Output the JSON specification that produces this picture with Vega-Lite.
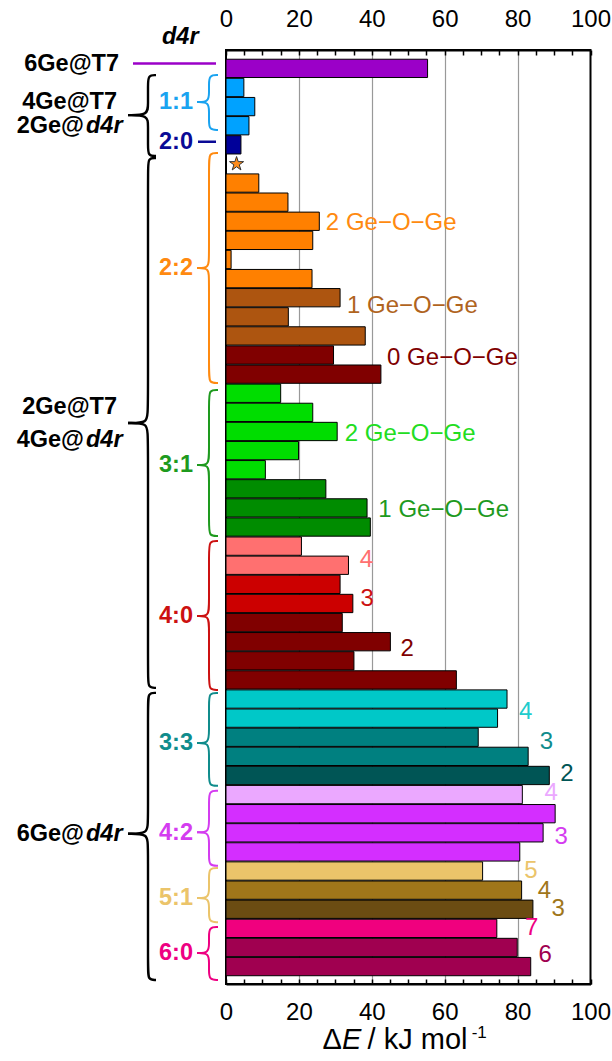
{
  "$schema": "https://vega.github.io/schema/vega-lite/v6.json",
  "padding": {"left": 0, "top": 6, "right": 0, "bottom": 0},
  "spacing": 0,
  "bounds": "flush",
  "config": {"font": "Liberation Sans", "view": {"stroke": null}},
  "datasets": {
    "bars": [
      {"row": 1, "dE": 55.3, "c": "T7"},
      {"row": 2, "dE": 4.9, "c": "b11"},
      {"row": 3, "dE": 7.9, "c": "b11"},
      {"row": 4, "dE": 6.3, "c": "b11"},
      {"row": 5, "dE": 4.1, "c": "b20"},
      {"row": 7, "dE": 9.0, "c": "b22a"},
      {"row": 8, "dE": 17.0, "c": "b22a"},
      {"row": 9, "dE": 25.6, "c": "b22a"},
      {"row": 10, "dE": 23.8, "c": "b22a"},
      {"row": 11, "dE": 1.4, "c": "b22a"},
      {"row": 12, "dE": 23.6, "c": "b22a"},
      {"row": 13, "dE": 31.3, "c": "b22b"},
      {"row": 14, "dE": 17.1, "c": "b22b"},
      {"row": 15, "dE": 38.2, "c": "b22b"},
      {"row": 16, "dE": 29.5, "c": "b22c"},
      {"row": 17, "dE": 42.5, "c": "b22c"},
      {"row": 18, "dE": 15.0, "c": "b31a"},
      {"row": 19, "dE": 23.8, "c": "b31a"},
      {"row": 20, "dE": 30.5, "c": "b31a"},
      {"row": 21, "dE": 19.9, "c": "b31a"},
      {"row": 22, "dE": 10.8, "c": "b31a"},
      {"row": 23, "dE": 27.4, "c": "b31b"},
      {"row": 24, "dE": 38.7, "c": "b31b"},
      {"row": 25, "dE": 39.6, "c": "b31b"},
      {"row": 26, "dE": 20.7, "c": "b40a"},
      {"row": 27, "dE": 33.6, "c": "b40a"},
      {"row": 28, "dE": 31.3, "c": "b40b"},
      {"row": 29, "dE": 34.8, "c": "b40b"},
      {"row": 30, "dE": 31.9, "c": "b40c"},
      {"row": 31, "dE": 45.1, "c": "b40c"},
      {"row": 32, "dE": 35.1, "c": "b40c"},
      {"row": 33, "dE": 63.2, "c": "b40c"},
      {"row": 34, "dE": 77.1, "c": "b33a"},
      {"row": 35, "dE": 74.5, "c": "b33a"},
      {"row": 36, "dE": 69.2, "c": "b33b"},
      {"row": 37, "dE": 82.9, "c": "b33b"},
      {"row": 38, "dE": 88.7, "c": "b33c"},
      {"row": 39, "dE": 81.3, "c": "b42a"},
      {"row": 40, "dE": 90.3, "c": "b42b"},
      {"row": 41, "dE": 87.0, "c": "b42b"},
      {"row": 42, "dE": 80.6, "c": "b42b"},
      {"row": 43, "dE": 70.4, "c": "b51a"},
      {"row": 44, "dE": 81.1, "c": "b51b"},
      {"row": 45, "dE": 84.2, "c": "b51c"},
      {"row": 46, "dE": 74.3, "c": "b60a"},
      {"row": 47, "dE": 79.9, "c": "b60b"},
      {"row": 48, "dE": 83.6, "c": "b60b"}
    ],
    "star": [{"row": 6, "dE": 2.9}],
    "geo": [
      {"t": "2 Ge−O−Ge", "x": 27.4, "row": 9.07, "c": "L22"},
      {"t": "1 Ge−O−Ge", "x": 33.2, "row": 13.45, "c": "t22b"},
      {"t": "0 Ge−O−Ge", "x": 44.2, "row": 16.14, "c": "b22c"},
      {"t": "2 Ge−O−Ge", "x": 32.6, "row": 20.12, "c": "t31a"},
      {"t": "1 Ge−O−Ge", "x": 41.8, "row": 24.1, "c": "L31"}
    ],
    "nums": [
      {"t": "4", "x": 36.7, "row": 26.75, "c": "b40a"},
      {"t": "3", "x": 36.9, "row": 28.75, "c": "L40"},
      {"t": "2", "x": 47.9, "row": 31.4, "c": "b40c"},
      {"t": "4", "x": 80.4, "row": 34.7, "c": "t33a"},
      {"t": "3", "x": 86.1, "row": 36.26, "c": "L33"},
      {"t": "2", "x": 91.7, "row": 37.9, "c": "b33c"},
      {"t": "4", "x": 87.4, "row": 38.9, "c": "b42a"},
      {"t": "3", "x": 90.1, "row": 41.2, "c": "L42"},
      {"t": "5", "x": 81.8, "row": 42.99, "c": "L51"},
      {"t": "4", "x": 85.5, "row": 44.02, "c": "b51b"},
      {"t": "3", "x": 89.3, "row": 44.97, "c": "b51b"},
      {"t": "7", "x": 82.0, "row": 46.0, "c": "L60"},
      {"t": "6", "x": 85.7, "row": 47.39, "c": "b60b"}
    ],
    "titlePlain": [
      {"t": "Δ", "x": 26.47, "row": 52.3},
      {"t": "/ kJ mol", "x": 38.85, "row": 52.3}
    ],
    "titleItalic": [{"t": "E", "x": 31.8, "row": 52.3}],
    "titleSup": [{"t": "-1", "x": 67.4, "row": 51.72}],
    "leftlabels": [
      {"t": "6Ge@T7", "x": 119, "row": 1, "c": "k"},
      {"t": "4Ge@T7", "x": 117, "row": 2.99, "c": "k"},
      {"t": "2Ge@", "x": 84, "row": 4.23, "c": "k"},
      {"t": "2Ge@T7", "x": 117, "row": 18.78, "c": "k"},
      {"t": "4Ge@", "x": 84, "row": 20.49, "c": "k"},
      {"t": "6Ge@", "x": 84, "row": 40.87, "c": "k"},
      {"t": "1:1", "x": 193, "row": 2.99, "c": "L11"},
      {"t": "2:0", "x": 193, "row": 5.05, "c": "L20"},
      {"t": "2:2", "x": 193, "row": 11.58, "c": "L22"},
      {"t": "3:1", "x": 193, "row": 21.78, "c": "L31"},
      {"t": "4:0", "x": 193, "row": 29.6, "c": "L40"},
      {"t": "3:3", "x": 193, "row": 36.17, "c": "L33"},
      {"t": "4:2", "x": 193, "row": 40.85, "c": "L42"},
      {"t": "5:1", "x": 193, "row": 44.2, "c": "L51"},
      {"t": "6:0", "x": 193, "row": 47.04, "c": "L60"}
    ],
    "italics": [
      {"t": "d4r", "x": 86, "row": 4.23},
      {"t": "d4r", "x": 86, "row": 20.49},
      {"t": "d4r", "x": 86, "row": 40.87},
      {"t": "d4r", "x": 162, "row": -0.35}
    ],
    "lrules": [
      {"x": 133, "x2": 216, "row": 1, "c": "T7"},
      {"x": 198, "x2": 216, "row": 5.05, "c": "L20"}
    ],
    "kbraces": [
      {"s": "K1u", "i": 0, "x": 156, "row": 1.6}, {"s": "K1u", "i": 1, "x": 148, "row": 1.6}, {"s": "K1u", "i": 2, "x": 148, "row": 2.15}, {"s": "K1u", "i": 3, "x": 148, "row": 3.12}, {"s": "K1u", "i": 4, "x": 148, "row": 3.67}, {"s": "K1u", "i": 5, "x": 128, "row": 3.67},
      {"s": "K1l", "i": 0, "x": 128, "row": 3.67}, {"s": "K1l", "i": 1, "x": 148, "row": 3.67}, {"s": "K1l", "i": 2, "x": 148, "row": 4.22}, {"s": "K1l", "i": 3, "x": 148, "row": 5.24}, {"s": "K1l", "i": 4, "x": 148, "row": 5.79}, {"s": "K1l", "i": 5, "x": 156, "row": 5.79},
      {"s": "K2u", "i": 0, "x": 156, "row": 5.89}, {"s": "K2u", "i": 1, "x": 148, "row": 5.89}, {"s": "K2u", "i": 2, "x": 148, "row": 6.49}, {"s": "K2u", "i": 3, "x": 148, "row": 19.01}, {"s": "K2u", "i": 4, "x": 148, "row": 19.61}, {"s": "K2u", "i": 5, "x": 128, "row": 19.61},
      {"s": "K2l", "i": 0, "x": 128, "row": 19.61}, {"s": "K2l", "i": 1, "x": 148, "row": 19.61}, {"s": "K2l", "i": 2, "x": 148, "row": 20.21}, {"s": "K2l", "i": 3, "x": 148, "row": 32.72}, {"s": "K2l", "i": 4, "x": 148, "row": 33.32}, {"s": "K2l", "i": 5, "x": 156, "row": 33.32},
      {"s": "K3u", "i": 0, "x": 156, "row": 33.58}, {"s": "K3u", "i": 1, "x": 148, "row": 33.58}, {"s": "K3u", "i": 2, "x": 148, "row": 34.18}, {"s": "K3u", "i": 3, "x": 148, "row": 40.27}, {"s": "K3u", "i": 4, "x": 148, "row": 40.87}, {"s": "K3u", "i": 5, "x": 128, "row": 40.87},
      {"s": "K3l", "i": 0, "x": 128, "row": 40.87}, {"s": "K3l", "i": 1, "x": 148, "row": 40.87}, {"s": "K3l", "i": 2, "x": 148, "row": 41.47}, {"s": "K3l", "i": 3, "x": 148, "row": 47.84}, {"s": "K3l", "i": 4, "x": 148, "row": 48.44}, {"s": "K3l", "i": 5, "x": 156, "row": 48.44}
    ],
    "cbraces": [
      {"s": "A11u", "c": "L11", "i": 0, "x": 218, "row": 1.6}, {"s": "A11u", "c": "L11", "i": 1, "x": 209, "row": 1.6}, {"s": "A11u", "c": "L11", "i": 2, "x": 209, "row": 2.15}, {"s": "A11u", "c": "L11", "i": 3, "x": 209, "row": 2.44}, {"s": "A11u", "c": "L11", "i": 4, "x": 209, "row": 2.99}, {"s": "A11u", "c": "L11", "i": 5, "x": 197, "row": 2.99},
      {"s": "A11l", "c": "L11", "i": 0, "x": 197, "row": 2.99}, {"s": "A11l", "c": "L11", "i": 1, "x": 209, "row": 2.99}, {"s": "A11l", "c": "L11", "i": 2, "x": 209, "row": 3.54}, {"s": "A11l", "c": "L11", "i": 3, "x": 209, "row": 3.89}, {"s": "A11l", "c": "L11", "i": 4, "x": 209, "row": 4.44}, {"s": "A11l", "c": "L11", "i": 5, "x": 218, "row": 4.44},
      {"s": "A22u", "c": "L22", "i": 0, "x": 218, "row": 5.63}, {"s": "A22u", "c": "L22", "i": 1, "x": 209, "row": 5.63}, {"s": "A22u", "c": "L22", "i": 2, "x": 209, "row": 6.18}, {"s": "A22u", "c": "L22", "i": 3, "x": 209, "row": 11.03}, {"s": "A22u", "c": "L22", "i": 4, "x": 209, "row": 11.58}, {"s": "A22u", "c": "L22", "i": 5, "x": 197, "row": 11.58},
      {"s": "A22l", "c": "L22", "i": 0, "x": 197, "row": 11.58}, {"s": "A22l", "c": "L22", "i": 1, "x": 209, "row": 11.58}, {"s": "A22l", "c": "L22", "i": 2, "x": 209, "row": 12.13}, {"s": "A22l", "c": "L22", "i": 3, "x": 209, "row": 16.99}, {"s": "A22l", "c": "L22", "i": 4, "x": 209, "row": 17.54}, {"s": "A22l", "c": "L22", "i": 5, "x": 218, "row": 17.54},
      {"s": "A31u", "c": "L31", "i": 0, "x": 218, "row": 17.9}, {"s": "A31u", "c": "L31", "i": 1, "x": 209, "row": 17.9}, {"s": "A31u", "c": "L31", "i": 2, "x": 209, "row": 18.45}, {"s": "A31u", "c": "L31", "i": 3, "x": 209, "row": 21.23}, {"s": "A31u", "c": "L31", "i": 4, "x": 209, "row": 21.78}, {"s": "A31u", "c": "L31", "i": 5, "x": 197, "row": 21.78},
      {"s": "A31l", "c": "L31", "i": 0, "x": 197, "row": 21.78}, {"s": "A31l", "c": "L31", "i": 1, "x": 209, "row": 21.78}, {"s": "A31l", "c": "L31", "i": 2, "x": 209, "row": 22.33}, {"s": "A31l", "c": "L31", "i": 3, "x": 209, "row": 24.91}, {"s": "A31l", "c": "L31", "i": 4, "x": 209, "row": 25.46}, {"s": "A31l", "c": "L31", "i": 5, "x": 218, "row": 25.46},
      {"s": "A40u", "c": "L40", "i": 0, "x": 218, "row": 25.72}, {"s": "A40u", "c": "L40", "i": 1, "x": 209, "row": 25.72}, {"s": "A40u", "c": "L40", "i": 2, "x": 209, "row": 26.27}, {"s": "A40u", "c": "L40", "i": 3, "x": 209, "row": 29.05}, {"s": "A40u", "c": "L40", "i": 4, "x": 209, "row": 29.6}, {"s": "A40u", "c": "L40", "i": 5, "x": 197, "row": 29.6},
      {"s": "A40l", "c": "L40", "i": 0, "x": 197, "row": 29.6}, {"s": "A40l", "c": "L40", "i": 1, "x": 209, "row": 29.6}, {"s": "A40l", "c": "L40", "i": 2, "x": 209, "row": 30.15}, {"s": "A40l", "c": "L40", "i": 3, "x": 209, "row": 32.88}, {"s": "A40l", "c": "L40", "i": 4, "x": 209, "row": 33.43}, {"s": "A40l", "c": "L40", "i": 5, "x": 218, "row": 33.43},
      {"s": "A33u", "c": "L33", "i": 0, "x": 218, "row": 33.58}, {"s": "A33u", "c": "L33", "i": 1, "x": 209, "row": 33.58}, {"s": "A33u", "c": "L33", "i": 2, "x": 209, "row": 34.13}, {"s": "A33u", "c": "L33", "i": 3, "x": 209, "row": 35.62}, {"s": "A33u", "c": "L33", "i": 4, "x": 209, "row": 36.17}, {"s": "A33u", "c": "L33", "i": 5, "x": 197, "row": 36.17},
      {"s": "A33l", "c": "L33", "i": 0, "x": 197, "row": 36.17}, {"s": "A33l", "c": "L33", "i": 1, "x": 209, "row": 36.17}, {"s": "A33l", "c": "L33", "i": 2, "x": 209, "row": 36.72}, {"s": "A33l", "c": "L33", "i": 3, "x": 209, "row": 37.84}, {"s": "A33l", "c": "L33", "i": 4, "x": 209, "row": 38.39}, {"s": "A33l", "c": "L33", "i": 5, "x": 218, "row": 38.39},
      {"s": "A42u", "c": "L42", "i": 0, "x": 218, "row": 38.65}, {"s": "A42u", "c": "L42", "i": 1, "x": 209, "row": 38.65}, {"s": "A42u", "c": "L42", "i": 2, "x": 209, "row": 39.2}, {"s": "A42u", "c": "L42", "i": 3, "x": 209, "row": 40.25}, {"s": "A42u", "c": "L42", "i": 4, "x": 209, "row": 40.8}, {"s": "A42u", "c": "L42", "i": 5, "x": 197, "row": 40.8},
      {"s": "A42l", "c": "L42", "i": 0, "x": 197, "row": 40.8}, {"s": "A42l", "c": "L42", "i": 1, "x": 209, "row": 40.8}, {"s": "A42l", "c": "L42", "i": 2, "x": 209, "row": 41.35}, {"s": "A42l", "c": "L42", "i": 3, "x": 209, "row": 41.98}, {"s": "A42l", "c": "L42", "i": 4, "x": 209, "row": 42.53}, {"s": "A42l", "c": "L42", "i": 5, "x": 218, "row": 42.53},
      {"s": "A51u", "c": "L51", "i": 0, "x": 218, "row": 42.64}, {"s": "A51u", "c": "L51", "i": 1, "x": 209, "row": 42.64}, {"s": "A51u", "c": "L51", "i": 2, "x": 209, "row": 43.19}, {"s": "A51u", "c": "L51", "i": 3, "x": 209, "row": 43.65}, {"s": "A51u", "c": "L51", "i": 4, "x": 209, "row": 44.2}, {"s": "A51u", "c": "L51", "i": 5, "x": 197, "row": 44.2},
      {"s": "A51l", "c": "L51", "i": 0, "x": 197, "row": 44.2}, {"s": "A51l", "c": "L51", "i": 1, "x": 209, "row": 44.2}, {"s": "A51l", "c": "L51", "i": 2, "x": 209, "row": 44.75}, {"s": "A51l", "c": "L51", "i": 3, "x": 209, "row": 44.9}, {"s": "A51l", "c": "L51", "i": 4, "x": 209, "row": 45.45}, {"s": "A51l", "c": "L51", "i": 5, "x": 218, "row": 45.45},
      {"s": "A60u", "c": "L60", "i": 0, "x": 218, "row": 45.7}, {"s": "A60u", "c": "L60", "i": 1, "x": 209, "row": 45.7}, {"s": "A60u", "c": "L60", "i": 2, "x": 209, "row": 46.25}, {"s": "A60u", "c": "L60", "i": 3, "x": 209, "row": 46.49}, {"s": "A60u", "c": "L60", "i": 4, "x": 209, "row": 47.04}, {"s": "A60u", "c": "L60", "i": 5, "x": 197, "row": 47.04},
      {"s": "A60l", "c": "L60", "i": 0, "x": 197, "row": 47.04}, {"s": "A60l", "c": "L60", "i": 1, "x": 209, "row": 47.04}, {"s": "A60l", "c": "L60", "i": 2, "x": 209, "row": 47.59}, {"s": "A60l", "c": "L60", "i": 3, "x": 209, "row": 47.89}, {"s": "A60l", "c": "L60", "i": 4, "x": 209, "row": 48.44}, {"s": "A60l", "c": "L60", "i": 5, "x": 218, "row": 48.44}
    ]
  },
  "hconcat": [
    {
      "width": 225.5,
      "height": 934,
      "view": {"stroke": null},
      "layer": [
        {
          "data": {"name": "kbraces"},
          "mark": {"type": "line", "interpolate": "basis", "strokeWidth": 2.4, "color": "black"},
          "encoding": {
            "x": {"field": "x", "type": "quantitative", "scale": {"domain": [0, 225.5], "nice": false, "zero": false}, "axis": null},
            "y": {"field": "row", "type": "quantitative", "scale": {"domain": [0.3, 48.65], "reverse": true, "nice": false, "zero": false}, "axis": null},
            "order": {"field": "i", "type": "quantitative"},
            "detail": {"field": "s", "type": "nominal"}
          }
        },
        {
          "data": {"name": "cbraces"},
          "mark": {"type": "line", "interpolate": "basis", "strokeWidth": 2},
          "encoding": {
            "x": {"field": "x", "type": "quantitative", "scale": {"domain": [0, 225.5], "nice": false, "zero": false}, "axis": null},
            "y": {"field": "row", "type": "quantitative", "scale": {"domain": [0.3, 48.65], "reverse": true, "nice": false, "zero": false}, "axis": null},
            "order": {"field": "i", "type": "quantitative"},
            "detail": {"field": "s", "type": "nominal"},
            "color": {"field": "c", "type": "nominal", "legend": null,
              "scale": {"domain": ["T7", "b11", "b20", "b22a", "b22b", "b22c", "b31a", "b31b", "b40a", "b40b", "b40c", "b33a", "b33b", "b33c", "b42a", "b42b", "b51a", "b51b", "b51c", "b60a", "b60b", "L11", "L20", "L22", "L31", "L40", "L33", "L42", "L51", "L60", "k", "t22b", "t31a", "t33a"],
                        "range": ["#9B00C8", "#00A2FF", "#000099", "#FF8000", "#AD5510", "#800000", "#00DD00", "#008C00", "#FF7070", "#CC0000", "#800000", "#00C8C8", "#008080", "#005555", "#EBA8FF", "#D42EFF", "#EBC46A", "#A0761A", "#6B4C12", "#F0007E", "#A00050", "#1AA3F0", "#0A0A96", "#FF8A10", "#1E9A1E", "#CC1111", "#108C8C", "#D43CF0", "#EBC46A", "#EE0082", "#000000", "#B0641E", "#22DD22", "#20CCCC"]}}
          }
        },
        {
          "data": {"name": "lrules"},
          "mark": {"type": "rule", "strokeWidth": 2.5},
          "encoding": {
            "x": {"field": "x", "type": "quantitative", "scale": {"domain": [0, 225.5], "nice": false, "zero": false}, "axis": null},
            "x2": {"field": "x2"},
            "y": {"field": "row", "type": "quantitative", "scale": {"domain": [0.3, 48.65], "reverse": true, "nice": false, "zero": false}, "axis": null},
            "color": {"field": "c", "type": "nominal", "legend": null,
              "scale": {"domain": ["T7", "b11", "b20", "b22a", "b22b", "b22c", "b31a", "b31b", "b40a", "b40b", "b40c", "b33a", "b33b", "b33c", "b42a", "b42b", "b51a", "b51b", "b51c", "b60a", "b60b", "L11", "L20", "L22", "L31", "L40", "L33", "L42", "L51", "L60", "k", "t22b", "t31a", "t33a"],
                        "range": ["#9B00C8", "#00A2FF", "#000099", "#FF8000", "#AD5510", "#800000", "#00DD00", "#008C00", "#FF7070", "#CC0000", "#800000", "#00C8C8", "#008080", "#005555", "#EBA8FF", "#D42EFF", "#EBC46A", "#A0761A", "#6B4C12", "#F0007E", "#A00050", "#1AA3F0", "#0A0A96", "#FF8A10", "#1E9A1E", "#CC1111", "#108C8C", "#D43CF0", "#EBC46A", "#EE0082", "#000000", "#B0641E", "#22DD22", "#20CCCC"]}}
          }
        },
        {
          "data": {"name": "leftlabels"},
          "mark": {"type": "text", "align": "right", "baseline": "middle", "fontSize": 23.5, "fontWeight": "bold"},
          "encoding": {
            "x": {"field": "x", "type": "quantitative", "scale": {"domain": [0, 225.5], "nice": false, "zero": false}, "axis": null},
            "y": {"field": "row", "type": "quantitative", "scale": {"domain": [0.3, 48.65], "reverse": true, "nice": false, "zero": false}, "axis": null},
            "text": {"field": "t"},
            "color": {"field": "c", "type": "nominal", "legend": null,
              "scale": {"domain": ["T7", "b11", "b20", "b22a", "b22b", "b22c", "b31a", "b31b", "b40a", "b40b", "b40c", "b33a", "b33b", "b33c", "b42a", "b42b", "b51a", "b51b", "b51c", "b60a", "b60b", "L11", "L20", "L22", "L31", "L40", "L33", "L42", "L51", "L60", "k", "t22b", "t31a", "t33a"],
                        "range": ["#9B00C8", "#00A2FF", "#000099", "#FF8000", "#AD5510", "#800000", "#00DD00", "#008C00", "#FF7070", "#CC0000", "#800000", "#00C8C8", "#008080", "#005555", "#EBA8FF", "#D42EFF", "#EBC46A", "#A0761A", "#6B4C12", "#F0007E", "#A00050", "#1AA3F0", "#0A0A96", "#FF8A10", "#1E9A1E", "#CC1111", "#108C8C", "#D43CF0", "#EBC46A", "#EE0082", "#000000", "#B0641E", "#22DD22", "#20CCCC"]}}
          }
        },
        {
          "data": {"name": "italics"},
          "mark": {"type": "text", "align": "left", "baseline": "middle", "fontSize": 23.5, "fontWeight": "bold", "fontStyle": "italic", "color": "black"},
          "encoding": {
            "x": {"field": "x", "type": "quantitative", "scale": {"domain": [0, 225.5], "nice": false, "zero": false}, "axis": null},
            "y": {"field": "row", "type": "quantitative", "scale": {"domain": [0.3, 48.65], "reverse": true, "nice": false, "zero": false}, "axis": null},
            "text": {"field": "t"}
          }
        }
      ]
    },
    {
      "width": 364.5,
      "height": 934,
      "view": {"stroke": "black", "strokeWidth": 2},
      "resolve": {"axis": {"x": "independent"}},
      "layer": [
        {
          "data": {"name": "bars"},
          "mark": {"type": "bar", "orient": "horizontal", "height": 18.3, "stroke": "black", "strokeWidth": 1},
          "encoding": {
            "x": {"field": "dE", "type": "quantitative", "stack": null,
              "scale": {"domain": [0, 100], "nice": false},
              "axis": {"orient": "top", "values": [0, 5, 10, 15, 20, 25, 30, 35, 40, 45, 50, 55, 60, 65, 70, 75, 80, 85, 90, 95, 100],
                "labelExpr": "datum.value % 20 == 0 ? datum.label : ''", "labelFontSize": 24, "labelColor": "black", "labelPadding": 24,
                "tickSize": -5, "tickColor": "black", "tickWidth": 1.5, "domainColor": "black", "domainWidth": 2,
                "grid": true, "gridColor": "#999999", "gridWidth": 1.2,
                "gridOpacity": {"condition": {"test": "datum.value % 20 == 0 && datum.value > 0 && datum.value < 100", "value": 1}, "value": 0},
                "title": null, "labelFlush": false}},
            "y": {"field": "row", "type": "quantitative", "scale": {"domain": [0.3, 48.65], "reverse": true, "nice": false, "zero": false}, "axis": null},
            "color": {"field": "c", "type": "nominal", "legend": null,
              "scale": {"domain": ["T7", "b11", "b20", "b22a", "b22b", "b22c", "b31a", "b31b", "b40a", "b40b", "b40c", "b33a", "b33b", "b33c", "b42a", "b42b", "b51a", "b51b", "b51c", "b60a", "b60b", "L11", "L20", "L22", "L31", "L40", "L33", "L42", "L51", "L60", "k", "t22b", "t31a", "t33a"],
                        "range": ["#9B00C8", "#00A2FF", "#000099", "#FF8000", "#AD5510", "#800000", "#00DD00", "#008C00", "#FF7070", "#CC0000", "#800000", "#00C8C8", "#008080", "#005555", "#EBA8FF", "#D42EFF", "#EBC46A", "#A0761A", "#6B4C12", "#F0007E", "#A00050", "#1AA3F0", "#0A0A96", "#FF8A10", "#1E9A1E", "#CC1111", "#108C8C", "#D43CF0", "#EBC46A", "#EE0082", "#000000", "#B0641E", "#22DD22", "#20CCCC"]}}
          }
        },
        {
          "data": {"name": "star"},
          "mark": {"type": "point", "filled": true, "shape": "M0,-1L0.2245,-0.309L0.951,-0.309L0.363,0.118L0.588,0.809L0,0.382L-0.588,0.809L-0.363,0.118L-0.951,-0.309L-0.2245,-0.309Z", "size": 220, "fill": "#FF8C1A", "stroke": "#333333", "strokeWidth": 1, "opacity": 1},
          "encoding": {
            "x": {"field": "dE", "type": "quantitative",
              "scale": {"domain": [0, 100], "nice": false},
              "axis": {"orient": "bottom", "values": [0, 5, 10, 15, 20, 25, 30, 35, 40, 45, 50, 55, 60, 65, 70, 75, 80, 85, 90, 95, 100],
                "labelExpr": "datum.value % 20 == 0 ? datum.label : ''", "labelFontSize": 24, "labelColor": "black", "labelPadding": 21,
                "tickSize": -5, "tickColor": "black", "tickWidth": 1.5, "domainColor": "black", "domainWidth": 2,
                "grid": false, "labelFlush": false, "title": null}},
            "y": {"field": "row", "type": "quantitative", "scale": {"domain": [0.3, 48.65], "reverse": true, "nice": false, "zero": false}, "axis": null}
          }
        },
        {
          "data": {"name": "geo"},
          "mark": {"type": "text", "align": "left", "baseline": "middle", "fontSize": 24},
          "encoding": {
            "x": {"field": "x", "type": "quantitative", "scale": {"domain": [0, 100], "nice": false}, "axis": null},
            "y": {"field": "row", "type": "quantitative", "scale": {"domain": [0.3, 48.65], "reverse": true, "nice": false, "zero": false}, "axis": null},
            "text": {"field": "t"},
            "color": {"field": "c", "type": "nominal", "legend": null,
              "scale": {"domain": ["T7", "b11", "b20", "b22a", "b22b", "b22c", "b31a", "b31b", "b40a", "b40b", "b40c", "b33a", "b33b", "b33c", "b42a", "b42b", "b51a", "b51b", "b51c", "b60a", "b60b", "L11", "L20", "L22", "L31", "L40", "L33", "L42", "L51", "L60", "k", "t22b", "t31a", "t33a"],
                        "range": ["#9B00C8", "#00A2FF", "#000099", "#FF8000", "#AD5510", "#800000", "#00DD00", "#008C00", "#FF7070", "#CC0000", "#800000", "#00C8C8", "#008080", "#005555", "#EBA8FF", "#D42EFF", "#EBC46A", "#A0761A", "#6B4C12", "#F0007E", "#A00050", "#1AA3F0", "#0A0A96", "#FF8A10", "#1E9A1E", "#CC1111", "#108C8C", "#D43CF0", "#EBC46A", "#EE0082", "#000000", "#B0641E", "#22DD22", "#20CCCC"]}}
          }
        },
        {
          "data": {"name": "nums"},
          "mark": {"type": "text", "align": "left", "baseline": "middle", "fontSize": 24},
          "encoding": {
            "x": {"field": "x", "type": "quantitative", "scale": {"domain": [0, 100], "nice": false}, "axis": null},
            "y": {"field": "row", "type": "quantitative", "scale": {"domain": [0.3, 48.65], "reverse": true, "nice": false, "zero": false}, "axis": null},
            "text": {"field": "t"},
            "color": {"field": "c", "type": "nominal", "legend": null,
              "scale": {"domain": ["T7", "b11", "b20", "b22a", "b22b", "b22c", "b31a", "b31b", "b40a", "b40b", "b40c", "b33a", "b33b", "b33c", "b42a", "b42b", "b51a", "b51b", "b51c", "b60a", "b60b", "L11", "L20", "L22", "L31", "L40", "L33", "L42", "L51", "L60", "k", "t22b", "t31a", "t33a"],
                        "range": ["#9B00C8", "#00A2FF", "#000099", "#FF8000", "#AD5510", "#800000", "#00DD00", "#008C00", "#FF7070", "#CC0000", "#800000", "#00C8C8", "#008080", "#005555", "#EBA8FF", "#D42EFF", "#EBC46A", "#A0761A", "#6B4C12", "#F0007E", "#A00050", "#1AA3F0", "#0A0A96", "#FF8A10", "#1E9A1E", "#CC1111", "#108C8C", "#D43CF0", "#EBC46A", "#EE0082", "#000000", "#B0641E", "#22DD22", "#20CCCC"]}}
          }
        },
        {
          "data": {"name": "titlePlain"},
          "mark": {"type": "text", "align": "left", "baseline": "alphabetic", "fontSize": 29, "color": "black"},
          "encoding": {
            "x": {"field": "x", "type": "quantitative", "scale": {"domain": [0, 100], "nice": false}, "axis": null},
            "y": {"field": "row", "type": "quantitative", "scale": {"domain": [0.3, 48.65], "reverse": true, "nice": false, "zero": false}, "axis": null},
            "text": {"field": "t"}
          }
        },
        {
          "data": {"name": "titleItalic"},
          "mark": {"type": "text", "align": "left", "baseline": "alphabetic", "fontSize": 29, "fontStyle": "italic", "color": "black"},
          "encoding": {
            "x": {"field": "x", "type": "quantitative", "scale": {"domain": [0, 100], "nice": false}, "axis": null},
            "y": {"field": "row", "type": "quantitative", "scale": {"domain": [0.3, 48.65], "reverse": true, "nice": false, "zero": false}, "axis": null},
            "text": {"field": "t"}
          }
        },
        {
          "data": {"name": "titleSup"},
          "mark": {"type": "text", "align": "left", "baseline": "alphabetic", "fontSize": 17, "color": "black"},
          "encoding": {
            "x": {"field": "x", "type": "quantitative", "scale": {"domain": [0, 100], "nice": false}, "axis": null},
            "y": {"field": "row", "type": "quantitative", "scale": {"domain": [0.3, 48.65], "reverse": true, "nice": false, "zero": false}, "axis": null},
            "text": {"field": "t"}
          }
        }
      ]
    }
  ]
}
